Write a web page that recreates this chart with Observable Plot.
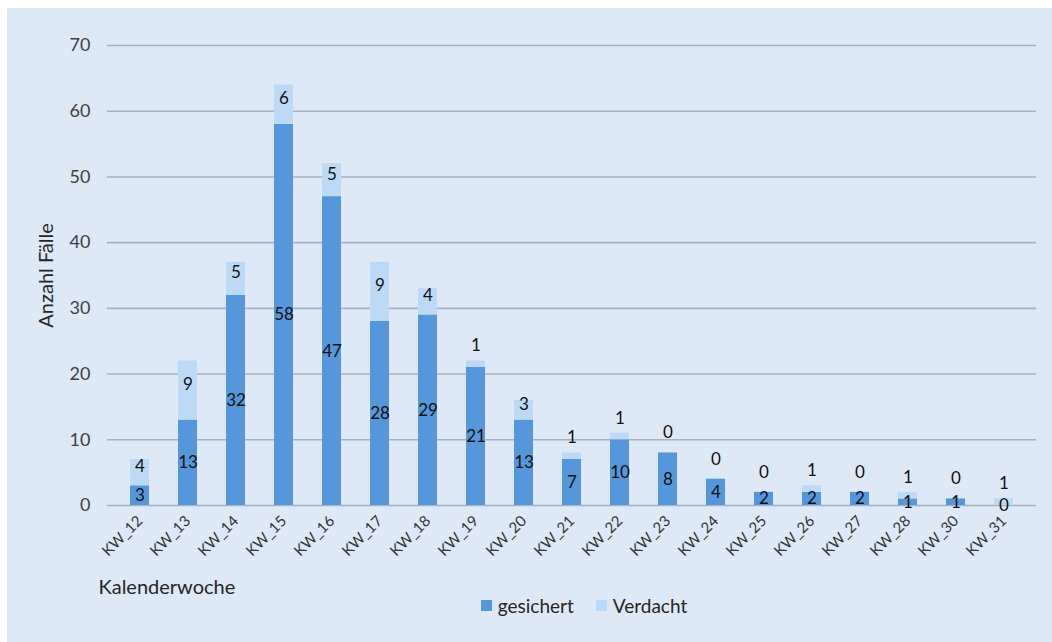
<!DOCTYPE html>
<html>
<head>
<meta charset="utf-8">
<script src="https://cdn.jsdelivr.net/npm/d3@7"></script>
<script src="https://cdn.jsdelivr.net/npm/@observablehq/plot@0.6"></script>
<style>
  html, body { margin: 0; padding: 0; background: #ffffff; }
  body { width: 1052px; height: 642px; position: relative; overflow: hidden; font-family: Lato, "Open Sans", sans-serif; }
  #bg { position: absolute; left: 7px; top: 8px; right: 0; bottom: 0; background: #dde9f7; }
  #chart { position: absolute; left: 0; top: 0; }
  #legend { position: absolute; top: 594px; left: 0; width: 1052px; display: flex; justify-content: center; gap: 22px; font-size: 19px; color: #262626; padding-left: 116px; box-sizing: border-box; }
  #legend span.item { display: flex; align-items: center; gap: 6px; }
  #legend span.sw { width: 11px; height: 11px; display: inline-block; }
</style>
</head>
<body>
<div id="bg"></div>
<div id="chart"></div>
<div id="legend"></div>
<script>
const weeks = ["KW_12","KW_13","KW_14","KW_15","KW_16","KW_17","KW_18","KW_19","KW_20","KW_21","KW_22","KW_23","KW_24","KW_25","KW_26","KW_27","KW_28","KW_30","KW_31"];
const gesichert = [3,13,32,58,47,28,29,21,13,7,10,8,4,2,2,2,1,1,0];
const verdacht  = [4,9,5,6,5,9,4,1,3,1,1,0,0,0,1,0,1,0,1];
const seriesNames = ["gesichert","Verdacht"];
const seriesColors = ["#5597da","#bcdaf6"];
const yTicks = [0,10,20,30,40,50,60,70];

const rows = [];
weeks.forEach((w, i) => {
  rows.push({week: w, series: "gesichert", value: gesichert[i]});
  rows.push({week: w, series: "Verdacht", value: verdacht[i]});
});

const gLabels = weeks.map((w, i) => ({week: w, y: gesichert[i] / 2, text: String(gesichert[i])}));
const vBig = [], vSmall1 = [], vSmall0 = [];
weeks.forEach((w, i) => {
  const v = verdacht[i], g = gesichert[i];
  if (v >= 3) vBig.push({week: w, y: g + v / 2, text: String(v)});
  else if (v > 0) vSmall1.push({week: w, y: g + v, text: String(v)});
  else vSmall0.push({week: w, y: g + v, text: String(v)});
});

const font = "Lato, 'Open Sans', sans-serif";
const labelStyle = {fontSize: 17, fill: "#111", fontFamily: font};

const chart = Plot.plot({
  width: 1052,
  height: 642,
  marginLeft: 107,
  marginRight: 16,
  marginTop: 45,
  marginBottom: 137,
  style: {background: "transparent", fontFamily: font},
  x: {domain: weeks, paddingInner: 0.6, paddingOuter: 0.3, label: null},
  y: {domain: [0, 70], label: null},
  color: {domain: seriesNames, range: seriesColors},
  marks: [
    Plot.ruleY(yTicks, {stroke: "#a8b2bc", strokeWidth: 1.6}),
    Plot.axisY({ticks: yTicks, tickSize: 0, tickPadding: 17, fontSize: 18, fill: "#404040", label: null}),
    Plot.axisX({tickSize: 0, tickPadding: 13, tickRotate: -45, fontSize: 15, fill: "#333", label: null}),
    Plot.barY(rows, {x: "week", y: "value", fill: "series", order: seriesNames}),
    Plot.text(gLabels, {x: "week", y: "y", text: "text", ...labelStyle}),
    Plot.text(vBig, {x: "week", y: "y", text: "text", dy: -6, ...labelStyle}),
    Plot.text(vSmall1, {x: "week", y: "y", text: "text", dy: -15, ...labelStyle}),
    Plot.text(vSmall0, {x: "week", y: "y", text: "text", dy: -20, ...labelStyle}),
    Plot.text(["Anzahl Fälle"], {frameAnchor: "left", dx: -61, rotate: -90, textAnchor: "middle", fontSize: 20, fill: "#262626", fontFamily: font}),
    Plot.text(["Kalenderwoche"], {frameAnchor: "bottom-left", dx: -9, dy: 88, textAnchor: "start", fontSize: 20, fill: "#262626", fontFamily: font})
  ]
});
document.getElementById("chart").appendChild(chart);

const legend = document.getElementById("legend");
seriesNames.forEach((s, i) => {
  const item = document.createElement("span");
  item.className = "item";
  const sw = document.createElement("span");
  sw.className = "sw";
  sw.style.background = seriesColors[i];
  const t = document.createElement("span");
  t.textContent = s;
  item.appendChild(sw);
  item.appendChild(t);
  legend.appendChild(item);
});
</script>
</body>
</html>
